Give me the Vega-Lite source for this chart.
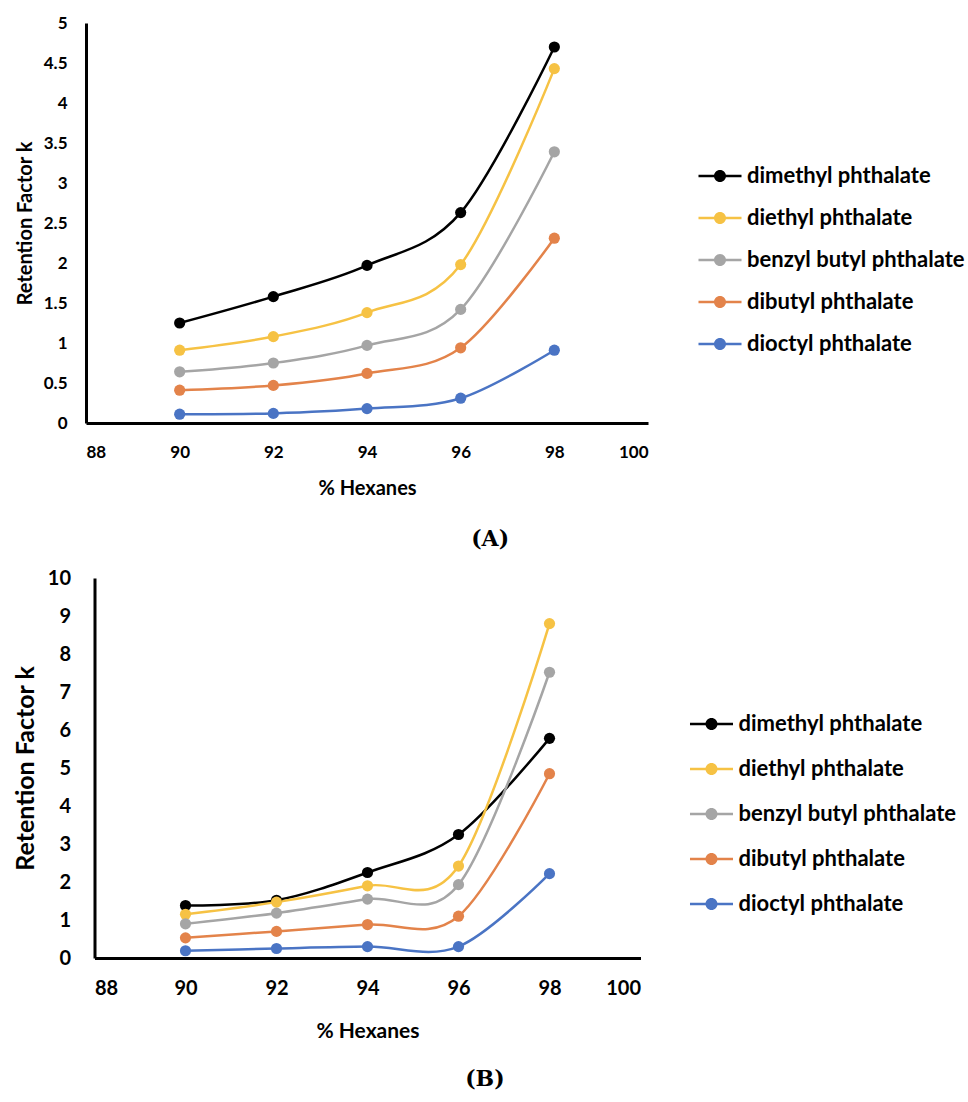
{
  "$schema": "https://vega.github.io/schema/vega-lite/v6.json",
  "background": "white",
  "padding": {"left": 13, "top": 14, "right": 0, "bottom": 5},
  "columns": 1,
  "align": "all",
  "center": true,
  "spacing": 18,
  "resolve": {"scale": {"color": "independent"}, "legend": {"color": "independent"}},
  "config": {
    "view": {"stroke": null},
    "axis": {"grid": false, "ticks": false, "labelOverlap": false, "domainColor": "black", "domainWidth": 3, "labelColor": "black", "titleColor": "black", "labelFont": "Lato", "titleFont": "Lato", "labelFontWeight": "bold", "titleFontWeight": "bold"},
    "legend": {"title": null, "symbolType": "M-1,-0.063H1V0.063H-1Z M0.28,0A0.28,0.28 0 1,1 -0.28,0A0.28,0.28 0 1,1 0.28,0Z", "symbolSize": 1850, "symbolStrokeWidth": 0, "symbolOpacity": 1, "labelFont": "Lato", "labelFontSize": 22, "labelFontWeight": "bold", "labelColor": "black", "labelOffset": 5, "labelLimit": 400}
  },
  "datasets": {
    "a": [
      {"hexanes": 90, "k": 1.25, "compound": "dimethyl phthalate"},
      {"hexanes": 92, "k": 1.58, "compound": "dimethyl phthalate"},
      {"hexanes": 94, "k": 1.97, "compound": "dimethyl phthalate"},
      {"hexanes": 96, "k": 2.63, "compound": "dimethyl phthalate"},
      {"hexanes": 98, "k": 4.70, "compound": "dimethyl phthalate"},
      {"hexanes": 90, "k": 0.91, "compound": "diethyl phthalate"},
      {"hexanes": 92, "k": 1.08, "compound": "diethyl phthalate"},
      {"hexanes": 94, "k": 1.38, "compound": "diethyl phthalate"},
      {"hexanes": 96, "k": 1.98, "compound": "diethyl phthalate"},
      {"hexanes": 98, "k": 4.43, "compound": "diethyl phthalate"},
      {"hexanes": 90, "k": 0.64, "compound": "benzyl butyl phthalate"},
      {"hexanes": 92, "k": 0.75, "compound": "benzyl butyl phthalate"},
      {"hexanes": 94, "k": 0.97, "compound": "benzyl butyl phthalate"},
      {"hexanes": 96, "k": 1.42, "compound": "benzyl butyl phthalate"},
      {"hexanes": 98, "k": 3.39, "compound": "benzyl butyl phthalate"},
      {"hexanes": 90, "k": 0.41, "compound": "dibutyl phthalate"},
      {"hexanes": 92, "k": 0.47, "compound": "dibutyl phthalate"},
      {"hexanes": 94, "k": 0.62, "compound": "dibutyl phthalate"},
      {"hexanes": 96, "k": 0.94, "compound": "dibutyl phthalate"},
      {"hexanes": 98, "k": 2.31, "compound": "dibutyl phthalate"},
      {"hexanes": 90, "k": 0.11, "compound": "dioctyl phthalate"},
      {"hexanes": 92, "k": 0.12, "compound": "dioctyl phthalate"},
      {"hexanes": 94, "k": 0.18, "compound": "dioctyl phthalate"},
      {"hexanes": 96, "k": 0.31, "compound": "dioctyl phthalate"},
      {"hexanes": 98, "k": 0.91, "compound": "dioctyl phthalate"}
    ],
    "b": [
      {"hexanes": 90, "k": 1.38, "compound": "dimethyl phthalate"},
      {"hexanes": 92, "k": 1.52, "compound": "dimethyl phthalate"},
      {"hexanes": 94, "k": 2.25, "compound": "dimethyl phthalate"},
      {"hexanes": 96, "k": 3.25, "compound": "dimethyl phthalate"},
      {"hexanes": 98, "k": 5.78, "compound": "dimethyl phthalate"},
      {"hexanes": 90, "k": 1.15, "compound": "diethyl phthalate"},
      {"hexanes": 92, "k": 1.47, "compound": "diethyl phthalate"},
      {"hexanes": 94, "k": 1.9, "compound": "diethyl phthalate"},
      {"hexanes": 96, "k": 2.42, "compound": "diethyl phthalate"},
      {"hexanes": 98, "k": 8.8, "compound": "diethyl phthalate"},
      {"hexanes": 90, "k": 0.9, "compound": "benzyl butyl phthalate"},
      {"hexanes": 92, "k": 1.18, "compound": "benzyl butyl phthalate"},
      {"hexanes": 94, "k": 1.55, "compound": "benzyl butyl phthalate"},
      {"hexanes": 96, "k": 1.93, "compound": "benzyl butyl phthalate"},
      {"hexanes": 98, "k": 7.52, "compound": "benzyl butyl phthalate"},
      {"hexanes": 90, "k": 0.53, "compound": "dibutyl phthalate"},
      {"hexanes": 92, "k": 0.7, "compound": "dibutyl phthalate"},
      {"hexanes": 94, "k": 0.88, "compound": "dibutyl phthalate"},
      {"hexanes": 96, "k": 1.1, "compound": "dibutyl phthalate"},
      {"hexanes": 98, "k": 4.85, "compound": "dibutyl phthalate"},
      {"hexanes": 90, "k": 0.19, "compound": "dioctyl phthalate"},
      {"hexanes": 92, "k": 0.25, "compound": "dioctyl phthalate"},
      {"hexanes": 94, "k": 0.3, "compound": "dioctyl phthalate"},
      {"hexanes": 96, "k": 0.3, "compound": "dioctyl phthalate"},
      {"hexanes": 98, "k": 2.22, "compound": "dioctyl phthalate"}
    ]
  },
  "concat": [
    {
      "width": 562,
      "height": 400,
      "data": {"name": "a"},
      "title": {"text": "(A)", "orient": "bottom", "anchor": "middle", "frame": "bounds", "font": "DejaVu Serif", "fontSize": 22, "fontWeight": "bold", "color": "black", "offset": 31},
      "encoding": {
        "x": {"field": "hexanes", "type": "quantitative", "scale": {"domain": [88, 100], "nice": false, "zero": false}, "axis": {"values": [88, 90, 92, 94, 96, 98, 100], "labelOverlap": false, "title": "% Hexanes", "labelFontSize": 17, "titleFontSize": 20, "labelPadding": 21, "titlePadding": 18}},
        "y": {"field": "k", "type": "quantitative", "scale": {"domain": [0, 5], "nice": false}, "axis": {"values": [0, 0.5, 1, 1.5, 2, 2.5, 3, 3.5, 4, 4.5, 5], "labelOverlap": false, "labelExpr": "format(datum.value, '~g')", "title": "Retention Factor k", "labelFontSize": 17, "titleFontSize": 20, "labelPadding": 19, "titlePadding": 8}},
        "color": {"field": "compound", "type": "nominal", "scale": {"domain": ["dimethyl phthalate", "diethyl phthalate", "benzyl butyl phthalate", "dibutyl phthalate", "dioctyl phthalate"], "range": ["#000000", "#F6C244", "#A5A5A5", "#E3834A", "#4A74C4"]},
          "legend": {"orient": "none", "legendX": 612, "legendY": 131, "rowPadding": 9}}
      },
      "layer": [
        {"mark": {"type": "line", "interpolate": "cardinal", "tension": 0, "strokeWidth": 2.5}},
        {"mark": {"type": "point", "filled": true, "size": 125, "opacity": 1}}
      ]
    },
    {
      "width": 546,
      "height": 380,
      "data": {"name": "b"},
      "title": {"text": "(B)", "orient": "bottom", "anchor": "middle", "frame": "bounds", "font": "DejaVu Serif", "fontSize": 22, "fontWeight": "bold", "color": "black", "offset": 28},
      "encoding": {
        "x": {"field": "hexanes", "type": "quantitative", "scale": {"domain": [88, 100], "nice": false, "zero": false}, "axis": {"values": [88, 90, 92, 94, 96, 98, 100], "labelOverlap": false, "title": "% Hexanes", "labelFontSize": 20, "titleFontSize": 21, "labelPadding": 20, "titlePadding": 22}},
        "y": {"field": "k", "type": "quantitative", "scale": {"domain": [0, 10], "nice": false}, "axis": {"values": [0, 1, 2, 3, 4, 5, 6, 7, 8, 9, 10], "labelOverlap": false, "title": "Retention Factor k", "labelFontSize": 20, "titleFontSize": 25, "labelPadding": 24, "titlePadding": 9}},
        "color": {"field": "compound", "type": "nominal", "scale": {"domain": ["dimethyl phthalate", "diethyl phthalate", "benzyl butyl phthalate", "dibutyl phthalate", "dioctyl phthalate"], "range": ["#000000", "#F6C244", "#A5A5A5", "#E3834A", "#4A74C4"]},
          "legend": {"orient": "none", "legendX": 595, "legendY": 124, "rowPadding": 12}}
      },
      "layer": [
        {"mark": {"type": "line", "interpolate": "cardinal", "tension": 0, "strokeWidth": 2.5}},
        {"mark": {"type": "point", "filled": true, "size": 125, "opacity": 1}}
      ]
    }
  ]
}
